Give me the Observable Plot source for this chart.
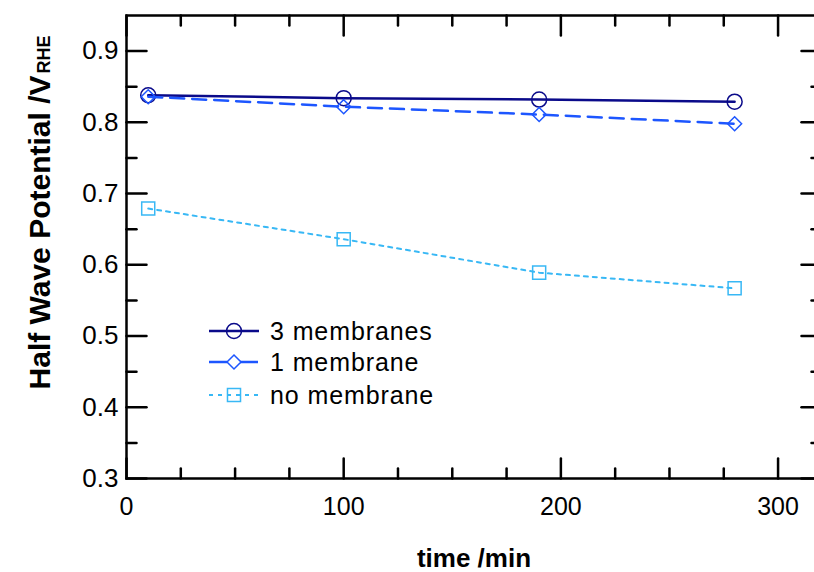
<!DOCTYPE html>
<html><head><meta charset="utf-8">
<script src="https://cdn.jsdelivr.net/npm/d3@7"></script>
<script src="https://cdn.jsdelivr.net/npm/@observablehq/plot@0.6"></script>
<style>
html,body{margin:0;padding:0;overflow:hidden;background:#fff;}
#wrap{position:relative;width:814px;height:572px;overflow:hidden;}
svg{font-family:"Liberation Sans",Arial,Helvetica,sans-serif;}
</style></head><body><div id="wrap"></div>
<script>
const times = [10, 100, 190, 280];
const seriesNames = ["3 membranes", "1 membrane", "no membrane"];
const threeMembranes = [0.838, 0.834, 0.832, 0.829];
const oneMembrane = [0.836, 0.822, 0.811, 0.798];
const noMembrane = [0.679, 0.636, 0.589, 0.567];
const xMajorTicks = [0, 100, 200, 300];
const xMinorTicks = [25, 50, 75, 125, 150, 175, 225, 250, 275];
const yMajorTicks = [0.3, 0.4, 0.5, 0.6, 0.7, 0.8, 0.9];
const yMinorTicks = [0.35, 0.45, 0.55, 0.65, 0.75, 0.85];
const xDomain = [0, 320];
const yDomain = [0.3, 0.95];
const xTitle = "time /min";
const yTitle = "Half Wave Potential /V";
const yTitleSub = "RHE";

const colors = ["#0a0a8a", "#1d56ff", "#38b8f5"];
const symbols = ["circle", "diamond2", "square2"];
const d3Symbols = {circle: d3.symbolCircle, diamond2: d3.symbolDiamond2, square2: d3.symbolSquare2};
const dashes = [null, "14,8", "4,5"];
const legendDashes = [null, "18,13", "4,5"];
const radii = [7.5, 6.3, 8.3];
const widths = [2.5, 2.5, 2];

const seriesValues = [threeMembranes, oneMembrane, noMembrane];
const rows = seriesValues.map((vals, i) => vals.map((v, j) => ({series: seriesNames[i], i, time: times[j], value: v})));

const tickShape = {draw(ctx, l) { ctx.moveTo(0, 0); ctx.lineTo(0, -l); }};
const tk = (data, anchor, rot, len) => Plot.vector(data, {
  ...(anchor === "top" || anchor === "bottom" ? {x: d => d} : {y: d => d}),
  frameAnchor: anchor, rotate: rot, length: len, anchor: "start", shape: tickShape,
  stroke: "black", strokeWidth: 2.5
});

const marks = [];
rows.forEach((r, i) => {
  marks.push(Plot.line(r, {x: "time", y: "value", stroke: colors[i], strokeWidth: widths[i], strokeDasharray: dashes[i]}));
  marks.push(Plot.dot(r, {x: "time", y: "value", symbol: symbols[i], r: radii[i], stroke: colors[i], fill: "none", strokeWidth: 1.5}));
});

const chart = Plot.plot({
  width: 822, height: 572,
  marginLeft: 126, marginRight: 1, marginTop: 15, marginBottom: 94,
  x: {domain: xDomain},
  y: {domain: yDomain},
  style: {fontFamily: '"Liberation Sans",Arial,Helvetica,sans-serif', background: "white", overflow: "visible", maxWidth: "none"},
  marks: [
    ...marks,
    tk(xMajorTicks, "bottom", 0, 20), tk(xMinorTicks, "bottom", 0, 10),
    tk(xMajorTicks, "top", 180, 20), tk(xMinorTicks, "top", 180, 10),
    tk(yMajorTicks, "left", 90, 20), tk(yMinorTicks, "left", 90, 10),
    tk(yMajorTicks, "right", -90, 20), tk(yMinorTicks, "right", -90, 10),
    Plot.axisX({ticks: xMajorTicks, anchor: "bottom", tickSize: 0, tickPadding: 19, fontSize: 25, label: null, tickFormat: d => String(d)}),
    Plot.axisY({ticks: yMajorTicks, anchor: "left", tickSize: 0, tickPadding: 8, fontSize: 26, label: null, tickFormat: d => d.toFixed(1)}),
    Plot.frame({stroke: "black", strokeWidth: 2.5}),
    Plot.text([xTitle], {frameAnchor: "bottom", dy: 88, fontSize: 26, fontWeight: "bold", fill: "black"}),
    Plot.text([yTitle], {frameAnchor: "top-left", dx: -98, dy: 60, rotate: -90, textAnchor: "end", fontSize: 30, fontWeight: "bold", fill: "black"}),
    Plot.text([yTitleSub], {frameAnchor: "top-left", dx: -89, dy: 58, rotate: -90, textAnchor: "start", fontSize: 18, fontWeight: "bold", fill: "black"})
  ]
});
document.getElementById("wrap").appendChild(chart);

// legend
const svg = d3.select(chart);
const lg = svg.append("g").attr("text-anchor", "start");
const rowY = [331, 362, 395];
seriesNames.forEach((name, i) => {
  const g = lg.append("g").attr("transform", `translate(0,${rowY[i]})`);
  g.append("line").attr("x1", 209).attr("x2", 259).attr("y1", 0).attr("y2", 0)
    .attr("stroke", colors[i]).attr("stroke-width", widths[i]).attr("stroke-dasharray", legendDashes[i]);
  g.append("path").attr("transform", "translate(234,0)")
    .attr("d", d3.symbol(d3Symbols[symbols[i]], radii[i] * radii[i] * Math.PI)())
    .attr("fill", "none").attr("stroke", colors[i]).attr("stroke-width", 1.5);
  g.append("text").attr("x", 270).attr("y", 0).attr("dy", "0.35em").attr("text-anchor", "start")
    .attr("font-size", 25).attr("letter-spacing", "0.9px").attr("fill", "black").text(name);
});
</script></body></html>
